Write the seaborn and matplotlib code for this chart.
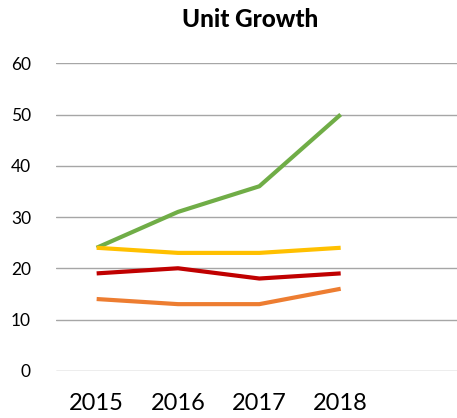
import pandas as pd
import matplotlib.pyplot as plt
import seaborn as sns

# values
years = ['2015', '2016', '2017', '2018']
green_units = [24, 31, 36, 50]
yellow_units = [24, 23, 23, 24]
red_units = [19, 20, 18, 19]
orange_units = [14, 13, 13, 16]
y_ticks = [0, 10, 20, 30, 40, 50, 60]

series = {
    'Green': green_units,
    'Yellow': yellow_units,
    'Red': red_units,
    'Orange': orange_units,
}
colors = {'Green': '#70AD47', 'Yellow': '#FFC000', 'Red': '#C00000', 'Orange': '#ED7D31'}

rows = []
for name, vals in series.items():
    for i, (yr, v) in enumerate(zip(years, vals)):
        rows.append({'pos': i, 'year': yr, 'series': name, 'units': v})
df = pd.DataFrame(rows)

sns.set_style('white')
plt.rcParams['font.family'] = ['Lato', 'DejaVu Sans']

fig = plt.figure(figsize=(4.57, 4.18), dpi=100)
ax = fig.add_axes([0.1225, 0.113, 0.8775, 0.7356])

ax.set_ylim(0, 60)
ax.set_xlim(-0.5, 4.43)
ax.set_yticks(y_ticks)
for t in y_ticks:
    ax.axhline(t, color='#A6A6A6', lw=1.0, zorder=0)

# draw in order so green sits under yellow at the start
for name in ['Green', 'Orange', 'Red', 'Yellow']:
    sns.lineplot(data=df[df['series'] == name], x='pos', y='units', color=colors[name],
                 lw=3, ax=ax, legend=False, solid_capstyle='butt')

ax.set_xticks(range(len(years)))
ax.set_xticklabels(years, fontsize=17)
ax.tick_params(axis='x', length=0, pad=16, colors='#000000')
ax.tick_params(axis='y', length=0, pad=18, labelsize=12.5, colors='#000000')
ax.set_xlabel('')
ax.set_ylabel('')
for s in ax.spines.values():
    s.set_visible(False)

fig.text(0.547, 0.953, 'Unit Growth', ha='center', va='center', fontsize=17.5,
         fontweight='black', color='#000000')

fig.savefig('out.png', dpi=100)
